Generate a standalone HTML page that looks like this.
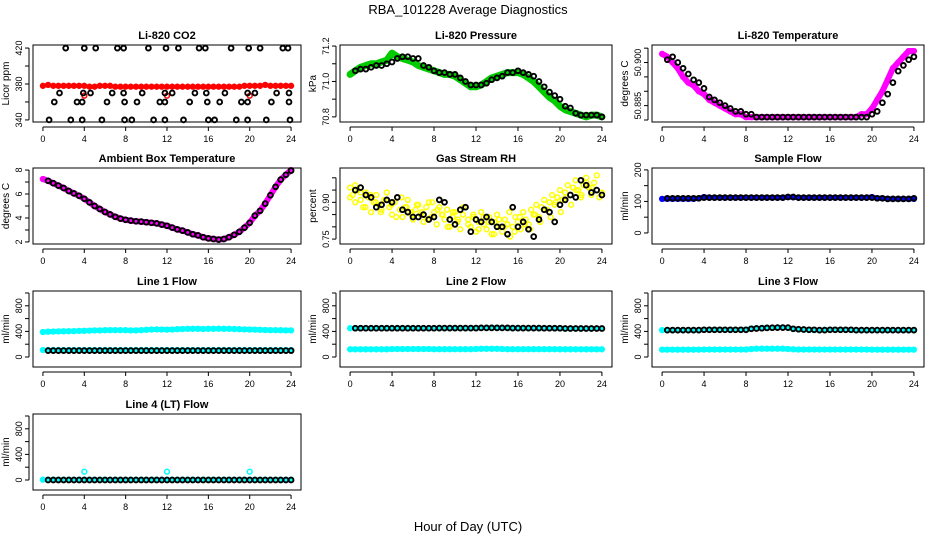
<!DOCTYPE html>
<html><head><meta charset="utf-8"><style>
html,body{margin:0;padding:0;background:#fff;}
svg{display:block;font-family:"Liberation Sans",sans-serif;}
</style></head><body>
<svg id="chart" width="936" height="540" viewBox="0 0 936 540">
<rect x="0" y="0" width="936" height="540" fill="#fff"/>
<text x="468" y="14" font-size="13" text-anchor="middle">RBA_101228  Average Diagnostics</text>
<text x="468" y="531" font-size="13" text-anchor="middle">Hour of Day (UTC)</text>
</svg>
<script>
const xTicks = [0,4,8,12,16,20,24];
// CO2
const co2Hours = [2.2,4.0,5.1,7.2,7.8,10.2,11.9,13.1,15.1,15.7,18.2,19.9,21.0,23.2,23.7,
 1.6,3.9,4.6,6.7,7.8,9.6,11.8,12.5,14.7,15.8,17.6,19.8,20.5,22.6,23.8,
 1.1,3.3,3.8,6.2,7.9,9.1,11.3,11.8,14.2,15.9,17.1,19.2,19.8,22.1,23.8,
 0.6,2.7,3.8,5.7,7.9,8.6,10.7,11.8,13.6,16.0,16.6,18.7,19.8,21.6,23.9];
const co2Black = [420,420,420,420,420,420,420,420,420,420,420,420,420,420,420,
 370,370,370,370,370,370,370,370,370,370,370,370,370,370,370,
 360,360,360,360,360,360,360,360,360,360,360,360,360,360,360,
 340,340,340,340,340,340,340,340,340,340,340,340,340,340,340];
const co2Red = [378,379,378,378,378,378,378,378,378,377,377,378,378,378,377,377,377,377,377,377,377,377,377,377,377,377,377,377,377,377,377,377,377,377,377,377,377,377,377,378,378,378,378,379,378,378,378,378,378];
const co2RedOutHours = [4,12,20];
const co2RedOut = [367,367,367];
// pressure
const presBlack = [71.06,71.07,71.07,71.08,71.09,71.09,71.10,71.11,71.13,71.14,71.14,71.13,71.13,71.09,71.08,71.06,71.05,71.05,71.04,71.04,71.02,71.00,70.98,70.98,70.98,70.99,71.01,71.02,71.03,71.05,71.05,71.06,71.05,71.04,71.03,71.00,70.97,70.94,70.92,70.90,70.86,70.85,70.82,70.81,70.81,70.81,70.81,70.80];
const presGreen = [71.04,71.06,71.08,71.09,71.10,71.10,71.11,71.12,71.16,71.14,71.13,71.12,71.11,71.09,71.08,71.07,71.06,71.05,71.04,71.04,71.03,71.01,70.99,70.97,70.97,70.98,71.00,71.02,71.03,71.04,71.05,71.05,71.05,71.04,71.02,71.00,70.97,70.94,70.91,70.89,70.86,70.84,70.83,70.82,70.81,70.80,70.81,70.81,70.80];
// Li-820 temperature
const ltBlack = [50.901,50.902,50.900,50.898,50.896,50.894,50.893,50.891,50.888,50.887,50.886,50.885,50.884,50.883,50.883,50.882,50.882,50.881,50.881,50.881,50.881,50.881,50.881,50.881,50.881,50.881,50.881,50.881,50.881,50.881,50.881,50.881,50.881,50.881,50.881,50.881,50.881,50.881,50.881,50.882,50.883,50.886,50.889,50.893,50.897,50.899,50.901,50.902];
const ltMagenta = [50.903,50.902,50.900,50.898,50.895,50.893,50.892,50.890,50.889,50.887,50.886,50.885,50.884,50.883,50.882,50.882,50.881,50.881,50.881,50.881,50.881,50.881,50.881,50.881,50.881,50.881,50.881,50.881,50.881,50.881,50.881,50.881,50.881,50.881,50.881,50.881,50.881,50.881,50.882,50.882,50.884,50.887,50.890,50.894,50.898,50.900,50.902,50.904,50.904];
// ambient
const ambBlack = [7.1,6.9,6.7,6.5,6.25,6.05,5.85,5.6,5.3,5.0,4.75,4.5,4.3,4.1,3.95,3.85,3.78,3.72,3.7,3.65,3.6,3.55,3.45,3.35,3.2,3.05,2.95,2.8,2.65,2.55,2.4,2.3,2.25,2.2,2.25,2.4,2.6,2.85,3.2,3.6,4.2,4.6,5.2,5.9,6.6,7.2,7.6,7.95];
const ambMagenta = [7.25,7.1,6.9,6.7,6.5,6.25,6.05,5.85,5.6,5.3,5.0,4.75,4.5,4.3,4.1,3.95,3.85,3.78,3.72,3.7,3.65,3.6,3.55,3.45,3.35,3.2,3.05,2.95,2.8,2.65,2.55,2.4,2.3,2.25,2.2,2.25,2.4,2.6,2.85,3.2,3.6,4.2,4.6,5.2,5.9,6.6,7.2,7.6,8.0];
// RH
const rhBlack = [0.95,0.96,0.93,0.92,0.88,0.89,0.91,0.90,0.92,0.87,0.86,0.84,0.84,0.85,0.83,0.84,0.91,0.90,0.83,0.81,0.87,0.88,0.78,0.83,0.82,0.84,0.82,0.80,0.80,0.77,0.88,0.80,0.82,0.79,0.76,0.83,0.87,0.86,0.82,0.89,0.91,0.93,0.92,0.99,0.97,0.94,0.95,0.93];
const rhYellow = [0.96,0.93,0.90,0.95,0.91,0.88,0.94,0.92,0.86,0.90,0.93,0.89,0.87,0.91,0.94,0.88,0.85,0.90,0.92,0.87,0.84,0.88,0.91,0.86,0.83,0.87,0.89,0.85,0.82,0.88,0.90,0.84,0.86,0.81,0.88,0.85,0.83,0.87,0.80,0.84,0.86,0.82,0.79,0.85,0.88,0.83,0.80,0.84,0.78,0.82,0.86,0.81,0.79,0.84,0.77,0.82,0.85,0.80,0.78,0.83,0.81,0.76,0.80,0.84,0.82,0.79,0.86,0.83,0.81,0.87,0.85,0.89,0.84,0.88,0.91,0.87,0.90,0.93,0.89,0.92,0.95,0.91,0.94,0.97,0.93,0.96,0.99,0.95,0.92,0.97,1.00,0.96,0.93,0.98,0.95,0.92,0.94];
const rhYellow2 = [0.92,0.97,0.94,0.88,0.93,0.90,0.86,0.91,0.89,0.84,0.92,0.88,0.85,0.89,0.86,0.83,0.90,0.87,0.85,0.80,0.86,0.83,0.88,0.81,0.85,0.79,0.84,0.82,0.77,0.83,0.80,0.86,0.78,0.84,0.81,0.79,0.85,0.82,0.87,0.84,0.90,0.86,0.92,0.89,0.95,0.93,0.98,0.96,1.01,0.94];
// flows
const sfBlack = [110,110,110,110,110,110,110,112,112,112,112,112,112,112,112,112,112,112,112,112,112,112,112,114,114,112,112,112,112,112,112,112,112,112,112,112,112,112,112,112,110,110,108,108,108,108,108,110];
const sfBlue = [108,108,108,108,108,108,108,110,114,112,112,112,112,112,112,112,112,112,112,112,112,112,112,112,114,113,112,112,112,112,112,112,112,112,112,112,112,112,112,112,114,110,110,108,108,108,108,108,108];
const l1Black = [100,100,100,100,100,100,100,100,100,100,100,100,100,100,100,100,100,100,100,100,100,100,100,100,100,100,100,100,100,100,100,100,100,100,100,100,100,100,100,100,100,100,100,100,100,100,100,100];
const l1CyanHi = [390,395,398,400,402,403,405,408,410,412,415,415,418,420,420,420,418,416,415,420,425,430,432,430,428,430,435,438,440,440,440,438,440,440,442,440,440,438,435,432,430,428,425,422,420,420,418,415,415];
const l1CyanLo = [110,110,110,110,110,110,110,110,110,110,110,110,110,110,110,110,110,110,110,110,110,110,110,110,110,110,110,110,110,110,110,110,110,110,110,110,110,110,110,110,110,110,110,110,110,110,110,110,110];
const l2Black = [450,450,450,450,450,450,450,450,450,450,450,450,450,450,450,450,452,452,452,452,452,452,452,452,455,455,455,455,455,455,452,452,452,452,452,452,450,450,450,450,445,445,445,445,445,445,445,445];
const l2CyanHi = [450,450,450,450,450,450,450,450,448,450,450,450,450,450,450,450,452,452,452,452,452,452,452,452,455,455,455,458,458,455,455,452,452,452,450,450,450,450,450,448,445,445,445,445,445,445,445,445,445];
const l2CyanLo = [120,120,120,120,120,120,120,120,125,125,125,125,125,125,125,125,122,122,122,122,122,122,122,122,125,128,128,128,128,125,122,122,122,122,122,122,122,122,122,122,120,120,120,120,120,120,120,120,120];
const l3Black = [420,420,420,420,420,420,420,425,425,425,425,425,425,425,425,425,440,445,450,455,458,460,460,460,440,435,430,425,425,420,420,425,425,425,425,425,420,420,420,420,420,420,420,420,420,420,420,420];
const l3CyanHi = [420,420,420,420,420,420,420,420,425,425,425,425,425,425,425,425,430,445,450,455,458,460,462,462,455,438,432,428,425,420,420,425,425,425,425,425,422,420,420,420,420,420,420,420,420,420,420,420,420];
const l3CyanLo = [115,115,115,115,115,115,115,115,118,118,118,118,118,118,118,118,118,125,130,130,130,130,130,130,125,120,118,118,118,118,118,118,118,118,118,118,118,118,118,118,115,115,115,115,115,115,115,115,115];
const l4Black = [0,0,0,0,0,0,0,0,0,0,0,0,0,0,0,0,0,0,0,0,0,0,0,0,0,0,0,0,0,0,0,0,0,0,0,0,0,0,0,0,0,0,0,0,0,0,0,0];
const l4Cyan = [5,5,5,5,5,5,5,5,5,5,5,5,5,5,5,5,5,5,5,5,5,5,5,5,5,5,5,5,5,5,5,5,5,5,5,5,5,5,5,5,5,5,5,5,5,5,5,5,5];
const l4CyanOutHours = [4,12,20];
const l4CyanOut = [130,130,130];

const NS = "http://www.w3.org/2000/svg";
const svg = document.getElementById('chart');
function mk(tag, attrs, parent){const e=document.createElementNS(NS,tag);for(const k in attrs)e.setAttribute(k,attrs[k]);(parent||svg).appendChild(e);return e;}
const blackTimes = n => Array.from({length:n},(_,i)=>24*(i+1)/n);
const colTimes = n => Array.from({length:n},(_,i)=>24*i/(n-1));

function panel(p){
  const g = mk('g',{});
  
  
  const xs = h => p.left + (h + 0.96) / 25.92 * p.w;
  const ys = v => p.top + p.h - (v - p.ylim[0]) / (p.ylim[1] - p.ylim[0]) * p.h;
  const t = mk('text',{x:p.left+p.w/2,y:p.top-6,'font-size':11,'font-weight':'bold','text-anchor':'middle'},g);
  t.textContent = p.title;
  
  
  p.series.forEach(s=>{
    const sg = mk('g',{},g);
    
    
    const times = s.times || (s.kind==='black' ? blackTimes(s.vals.length) : colTimes(s.vals.length));
    if (s.band){
      const pts = s.vals.map((v,i)=>xs(times[i]).toFixed(1)+','+ys(v).toFixed(1)).join(' ');
      const pl = mk('polyline',{points:pts,fill:'none',stroke:s.color,'stroke-width':s.band,'stroke-linejoin':'round','stroke-linecap':'round'},sg);
      
      
    }
    const sw = s.color==='#000' ? 1.9 : 1.5;
    s.vals.forEach((v,i)=>{
      const c = mk('circle',{cx:xs(times[i]).toFixed(1),cy:ys(v).toFixed(1),r:2.4,fill:'none',stroke:s.color,'stroke-width':sw},sg);
      
      
    });
  });
  const b = mk('rect',{x:p.left,y:p.top,width:p.w,height:p.h,fill:'none',stroke:'#000','stroke-width':1},g);
  
  
  const xa = mk('g',{'font-size':9},g);
  
  
  mk('line',{x1:xs(0),x2:xs(24),y1:p.top+p.h+5,y2:p.top+p.h+5,stroke:'#000'},xa);
  xTicks.forEach(h=>{
    mk('line',{x1:xs(h),x2:xs(h),y1:p.top+p.h+5,y2:p.top+p.h+9,stroke:'#000'},xa);
    const l = mk('text',{x:xs(h),y:p.top+p.h+20,'text-anchor':'middle'},xa);
    l.textContent = h;
    
    
  });
  const ya = mk('g',{'font-size':9},g);
  
  
  const ax = p.left - 4;
  mk('line',{x1:ax,x2:ax,y1:ys(p.yticks[0]),y2:ys(p.yticks[p.yticks.length-1]),stroke:'#000'},ya);
  p.yticks.forEach(v=>{
    mk('line',{x1:ax-4,x2:ax,y1:ys(v),y2:ys(v),stroke:'#000'},ya);
  });
  p.ylabels.forEach(v=>{
    const y = ys(v), x = ax-7;
    const l = mk('text',{x:x,y:y,'text-anchor':'middle',transform:`rotate(-90 ${x} ${y})`},ya);
    l.textContent = p.fmt ? p.fmt(v) : v;
    
    
  });
  const yt = p.top + p.h/2, xt = p.left - 24;
  const tl = mk('text',{x:xt,y:yt,'font-size':10,'text-anchor':'middle',transform:`rotate(-90 ${xt} ${yt})`},g);
  tl.textContent = p.ylab;
  
  
}

const cols = [[33,268],[340,272],[652,272]];
const rows = [45,168,291,414];
const H = 76;
const flowTicks = [0,200,400,600,800,1000], flowLabels = [0,400,800];

panel({id:'co2',title:'Li-820 CO2',left:cols[0][0],w:cols[0][1],top:rows[0],h:H+1,ylim:[337.7,423.4],yticks:[340,360,380,400,420],ylabels:[340,380,420],ylab:'Licor ppm',
  series:[{name:'co2-red',kind:'col',color:'#f00',vals:co2Red,band:4},
          {name:'co2-red-outliers',color:'#f00',vals:co2RedOut,times:co2RedOutHours},
          {name:'co2-black',color:'#000',vals:co2Black,times:co2Hours}]});
panel({id:'pressure',title:'Li-820 Pressure',left:cols[1][0],w:cols[1][1],top:rows[0],h:H+1,ylim:[70.771,71.206],yticks:[70.8,70.9,71.0,71.1,71.2],ylabels:[70.8,71.0,71.2],fmt:v=>v.toFixed(1),ylab:'kPa',
  series:[{name:'pressure-green',kind:'col',color:'#0c0',vals:presGreen,band:7},
          {name:'pressure-black',kind:'black',color:'#000',vals:presBlack}]});
panel({id:'li820-temp',title:'Li-820 Temperature',left:cols[2][0],w:cols[2][1],top:rows[0],h:H+1,ylim:[50.8793,50.9061],yticks:[50.880,50.885,50.890,50.895,50.900,50.905],ylabels:[50.885,50.900],fmt:v=>v.toFixed(3),ylab:'degrees C',
  series:[{name:'li820-temp-magenta',kind:'col',color:'#f0f',vals:ltMagenta,band:6},
          {name:'li820-temp-black',kind:'black',color:'#000',vals:ltBlack}]});
panel({id:'ambient',title:'Ambient Box Temperature',left:cols[0][0],w:cols[0][1],top:rows[1],h:H,ylim:[1.83,8.17],yticks:[2,3,4,5,6,7,8],ylabels:[2,4,6,8],ylab:'degrees C',
  series:[{name:'ambient-magenta',kind:'col',color:'#f0f',vals:ambMagenta,band:6},
          {name:'ambient-black',kind:'black',color:'#000',vals:ambBlack}]});
panel({id:'rh',title:'Gas Stream RH',left:cols[1][0],w:cols[1][1],top:rows[1],h:H,ylim:[0.73,1.04],yticks:[0.75,0.80,0.85,0.90,0.95,1.00],ylabels:[0.75,0.90],fmt:v=>v.toFixed(2),ylab:'percent',
  series:[{name:'rh-yellow',kind:'col',color:'#ff0',vals:rhYellow},
          {name:'rh-yellow-b',kind:'col',color:'#ff0',vals:rhYellow2},
          {name:'rh-black',kind:'black',color:'#000',vals:rhBlack}]});
panel({id:'sample-flow',title:'Sample Flow',left:cols[2][0],w:cols[2][1],top:rows[1],h:H,ylim:[-35,206],yticks:[0,50,100,150,200],ylabels:[0,100,200],ylab:'ml/min',
  series:[{name:'sample-flow-blue',kind:'col',color:'#00f',vals:sfBlue,band:5},
          {name:'sample-flow-black',kind:'black',color:'#000',vals:sfBlack}]});
panel({id:'line1',title:'Line 1 Flow',left:cols[0][0],w:cols[0][1],top:rows[2],h:H,ylim:[-156,1031],yticks:flowTicks,ylabels:flowLabels,ylab:'ml/min',
  series:[{name:'line1-cyan-high',kind:'col',color:'#0ff',vals:l1CyanHi,band:5},
          {name:'line1-cyan-low',kind:'col',color:'#0ff',vals:l1CyanLo,band:4},
          {name:'line1-black',kind:'black',color:'#000',vals:l1Black}]});
panel({id:'line2',title:'Line 2 Flow',left:cols[1][0],w:cols[1][1],top:rows[2],h:H,ylim:[-156,1031],yticks:flowTicks,ylabels:flowLabels,ylab:'ml/min',
  series:[{name:'line2-cyan-high',kind:'col',color:'#0ff',vals:l2CyanHi,band:4},
          {name:'line2-cyan-low',kind:'col',color:'#0ff',vals:l2CyanLo,band:5},
          {name:'line2-black',kind:'black',color:'#000',vals:l2Black}]});
panel({id:'line3',title:'Line 3 Flow',left:cols[2][0],w:cols[2][1],top:rows[2],h:H,ylim:[-156,1031],yticks:flowTicks,ylabels:flowLabels,ylab:'ml/min',
  series:[{name:'line3-cyan-high',kind:'col',color:'#0ff',vals:l3CyanHi,band:4},
          {name:'line3-cyan-low',kind:'col',color:'#0ff',vals:l3CyanLo,band:5},
          {name:'line3-black',kind:'black',color:'#000',vals:l3Black}]});
panel({id:'line4',title:'Line 4 (LT) Flow',left:cols[0][0],w:cols[0][1],top:rows[3],h:H,ylim:[-156,1031],yticks:flowTicks,ylabels:flowLabels,ylab:'ml/min',
  series:[{name:'line4-cyan',kind:'col',color:'#0ff',vals:l4Cyan,band:4},
          {name:'line4-cyan-outliers',color:'#0ff',vals:l4CyanOut,times:l4CyanOutHours},
          {name:'line4-black',kind:'black',color:'#000',vals:l4Black}]});
</script>
</body></html>
